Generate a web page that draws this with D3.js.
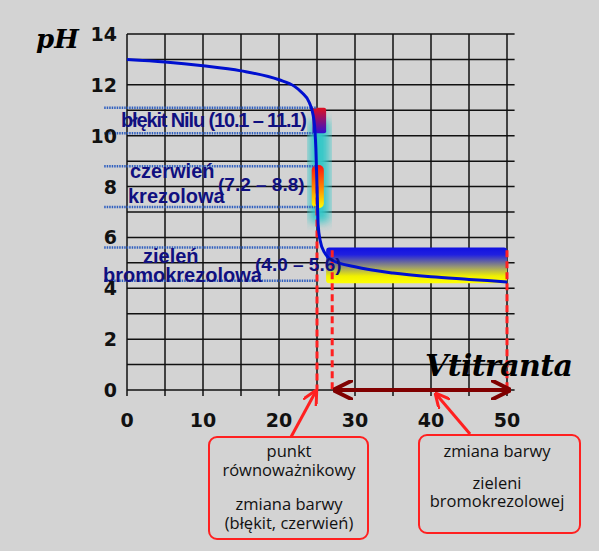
<!DOCTYPE html>
<html><head><meta charset="utf-8">
<script src="https://cdn.jsdelivr.net/npm/d3@7"></script>
<style>body{margin:0;background:#d3d3d3}</style>
</head><body><div id="plot"></div>
<script>
// Data
const xTicks = [0, 10, 20, 30, 40, 50];
const yTicks = [0, 2, 4, 6, 8, 10, 12, 14];
const curveV = [0, 5, 10, 15, 20, 22, 23, 24, 24.6, 24.85, 25, 25.15, 25.4, 26, 27, 30, 35, 40, 45, 50];
const curvePH = [13, 12.9, 12.75, 12.55, 12.2, 11.95, 11.7, 11.3, 10.6, 9.5, 8, 6.5, 5.9, 5.4, 5.1, 4.85, 4.6, 4.45, 4.35, 4.25];
const indicators = [
  {lines: ["błękit Nilu (10.1 – 11.1)"], lo: 10.1, hi: 11.1},
  {lines: ["czerwień", "krezolowa"], range: "(7.2 – 8.8)", lo: 7.2, hi: 8.8},
  {lines: ["zieleń", "bromokrezolowa"], range: "(4.0 – 5.6)", lo: 4.3, hi: 5.6}
];
const eqV = 25, bromStart = 27, bromEnd = 50;

const svg = d3.select("#plot").append("svg").attr("width", 599).attr("height", 551);
const x = d3.scaleLinear().domain([0, 50]).range([127, 507]);
const y = d3.scaleLinear().domain([0, 14]).range([390, 34]);
const defs = svg.append("defs");

// grid
const g = svg.append("g");
d3.range(0, 15).forEach(v => g.append("line").attr("x1", x(0)).attr("x2", x(51)).attr("y1", y(v)).attr("y2", y(v)).attr("stroke", "#111").attr("stroke-width", 1.5));
d3.range(0, 55, 5).forEach(v => g.append("line").attr("x1", x(v)).attr("x2", x(v)).attr("y1", y(14)).attr("y2", y(0) + 6).attr("stroke", "#111").attr("stroke-width", 1.5));

// gradients
function lin(id, stops) {
  const gr = defs.append("linearGradient").attr("id", id).attr("x1", 0).attr("x2", 0).attr("y1", 0).attr("y2", 1);
  stops.forEach(s => gr.append("stop").attr("offset", s[0]).attr("stop-color", s[1]));
}
lin("brom", [[0, "#1010e0"], [0.2, "#2020e0"], [0.55, "#9a9a70"], [0.8, "#f0f000"], [1, "#ffff00"]]);
lin("nile", [[0, "#e01020"], [1, "#3010d0"]]);
lin("cres", [[0, "#ff1010"], [0.5, "#ff8000"], [1, "#ffff00"]]);
defs.append("filter").attr("id", "blur").append("feGaussianBlur").attr("stdDeviation", 5);

svg.append("rect").attr("x", x(24)).attr("y", y(10.6)).attr("width", x(26.6) - x(24)).attr("height", y(6.6) - y(10.6))
  .attr("fill", "#30c8c8").attr("filter", "url(#blur)");
svg.append("rect").attr("x", x(bromStart - 0.8)).attr("y", y(5.6)).attr("width", x(bromEnd) - x(bromStart - 0.8)).attr("height", y(4.2) - y(5.6))
  .attr("fill", "url(#brom)").attr("rx", 3);
svg.append("rect").attr("x", x(24.4)).attr("y", y(11.1)).attr("width", x(26.2) - x(24.4)).attr("height", y(10.1) - y(11.1))
  .attr("fill", "url(#nile)").attr("rx", 2);
svg.append("rect").attr("x", x(24.3)).attr("y", y(8.85)).attr("width", x(25.9) - x(24.3)).attr("height", y(7.15) - y(8.85))
  .attr("fill", "url(#cres)").attr("rx", 5);

// indicator dotted lines
indicators.forEach(d => {
  [d.lo, d.hi].forEach(v => svg.append("line").attr("x1", x(-3)).attr("x2", x(25)).attr("y1", y(v)).attr("y2", y(v))
    .attr("stroke", "#3060c0").attr("stroke-width", 2.5).attr("stroke-dasharray", "1.5,1"));
});

// dashed red lines
svg.append("line").attr("x1", x(eqV)).attr("x2", x(eqV)).attr("y1", y(8)).attr("y2", y(0)).attr("stroke", "#ff2020").attr("stroke-width", 3).attr("stroke-dasharray", "7,4");
[bromStart, bromEnd].forEach(v => svg.append("line").attr("x1", x(v)).attr("x2", x(v)).attr("y1", y(5.5)).attr("y2", y(0)).attr("stroke", "#ff2020").attr("stroke-width", 3).attr("stroke-dasharray", "7,4"));

// curve
svg.append("path").datum(curveV.map((v, i) => [v, curvePH[i]]))
  .attr("d", d3.line().x(d => x(d[0])).y(d => y(d[1])).curve(d3.curveMonotoneX))
  .attr("fill", "none").attr("stroke", "#0010d0").attr("stroke-width", 3);

// indicator labels
const lab = svg.append("g").attr("fill", "#101080").attr("font-family", "Liberation Sans Narrow, Liberation Sans, Arial").attr("font-weight", "bold");
lab.append("text").attr("x", 121).attr("y", y(10.6) + 7).attr("font-size", 20).attr("textLength", 186).text(indicators[0].lines[0]);
lab.append("text").attr("x", 130).attr("y", 178).attr("font-size", 20).text(indicators[1].lines[0]);
lab.append("text").attr("x", 128).attr("y", 203).attr("font-size", 20).text(indicators[1].lines[1]);
lab.append("text").attr("x", 218).attr("y", 191).attr("font-size", 19).text(indicators[1].range);
lab.append("text").attr("x", 143).attr("y", 263).attr("font-size", 20).text(indicators[2].lines[0]);
lab.append("text").attr("x", 103).attr("y", 282).attr("font-size", 20).text(indicators[2].lines[1]);
lab.append("text").attr("x", 255).attr("y", 271).attr("font-size", 19).text(indicators[2].range);

// arrow markers
function marker(id, col) {
  defs.append("marker").attr("id", id).attr("viewBox", "0 0 10 10").attr("refX", 9).attr("refY", 5)
    .attr("markerWidth", 5).attr("markerHeight", 5).attr("orient", "auto-start-reverse")
    .append("path").attr("d", "M0,0 L10,5 L0,10").attr("fill", "none").attr("stroke", col).attr("stroke-width", 2);
}
marker("dr", "#800000");
marker("rd", "#ff2020");
svg.append("line").attr("x1", x(bromStart) + 3).attr("x2", x(bromEnd) + 2).attr("y1", y(0)).attr("y2", y(0))
  .attr("stroke", "#800000").attr("stroke-width", 4).attr("marker-start", "url(#dr)").attr("marker-end", "url(#dr)");

// axis tick labels
const ax = svg.append("g").attr("font-family", "DejaVu Sans, Verdana").attr("font-weight", "bold").attr("font-size", 19).attr("fill", "#111");
xTicks.forEach(v => ax.append("text").attr("x", x(v)).attr("y", 427).attr("text-anchor", "middle").text(v));
yTicks.forEach(v => ax.append("text").attr("x", 117).attr("y", y(v) + 7).attr("text-anchor", "end").text(v));

svg.append("text").attr("x", 36).attr("y", 48).attr("font-family", "DejaVu Serif, serif").attr("font-style", "italic").attr("font-weight", "bold").attr("font-size", 26).text("pH");
svg.append("text").attr("x", 425).attr("y", 376).attr("font-family", "DejaVu Serif, serif").attr("font-style", "italic").attr("font-weight", "bold").attr("font-size", 30).attr("textLength", 148).text("Vtitranta");

// callout boxes
const box = svg.append("g").attr("font-family", "Open Sans, Noto Sans").attr("font-size", 16.5).attr("fill", "#111").attr("text-anchor", "middle");
box.append("rect").attr("x", 209).attr("y", 437).attr("width", 159).attr("height", 102).attr("rx", 8).attr("fill", "none").attr("stroke", "#ff2020").attr("stroke-width", 2);
[["punkt", 457], ["równoważnikowy", 476], ["zmiana barwy", 510], ["(błękit, czerwień)", 529]].forEach(t => box.append("text").attr("x", 289).attr("y", t[1]).text(t[0]));
box.append("rect").attr("x", 419).attr("y", 435).attr("width", 161).attr("height", 98).attr("rx", 8).attr("fill", "none").attr("stroke", "#ff2020").attr("stroke-width", 2);
[["zmiana barwy", 457], ["zieleni", 489], ["bromokrezolowej", 507]].forEach(t => box.append("text").attr("x", 497).attr("y", t[1]).text(t[0]));

svg.append("line").attr("x1", 291).attr("y1", 437).attr("x2", x(eqV) - 1).attr("y2", y(0) + 1).attr("stroke", "#ff2020").attr("stroke-width", 3).attr("marker-end", "url(#rd)");
svg.append("line").attr("x1", 470).attr("y1", 434).attr("x2", 436).attr("y2", y(0) + 4).attr("stroke", "#ff2020").attr("stroke-width", 3).attr("marker-end", "url(#rd)");
</script></body></html>
